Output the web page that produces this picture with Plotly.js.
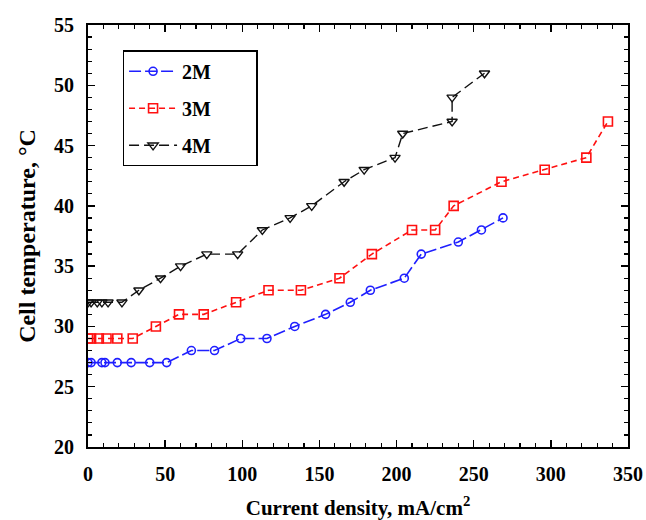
<!DOCTYPE html>
<html>
<head>
<meta charset="utf-8">
<script src="https://cdn.plot.ly/plotly-3.0.1.min.js"></script>
<style>html,body{margin:0;padding:0;background:#fff;}#chart{width:646px;height:520px;}</style>
</head>
<body>
<div id="chart"></div>
<script>
var seriesNames = ["2M", "3M", "4M"];
var x2M = [0, 2, 9, 11, 19, 28, 40, 51, 67, 82, 99, 116, 134, 154, 170, 183, 205, 216, 240, 255, 269];
var y2M = [27, 27, 27, 27, 27, 27, 27, 27, 28, 28, 29, 29, 30, 31, 32, 33, 34, 36, 37, 38, 39];
var x3M = [0, 2, 7, 12, 19, 29, 44, 59, 75, 96, 117, 138, 163, 184, 210, 225, 237, 268, 296, 323, 337];
var y3M = [29, 29, 29, 29, 29, 29, 30, 31, 31, 32, 33, 33, 34, 36, 38, 38, 40, 42, 43, 44, 47];
var x4M = [0, 2, 6, 9, 13, 22, 33, 47, 60, 77, 97, 113, 131, 145, 166, 179, 199, 204, 236, 236, 257];
var y4M = [32, 32, 32, 32, 32, 32, 33, 34, 35, 36, 36, 38, 39, 40, 42, 43, 44, 46, 47, 49, 51];
var xTitle = "Current density, mA/cm<sup>2</sup>";
var yTitle = "Cell temperature, °C";

var serif = "Liberation Serif, Times New Roman, serif";
var pad = "\u00a0\u00a0\u00a0\u00a0\u00a0\u00a0\u00a0\u00a0";

var traces = [
  {x: x2M, y: y2M, name: seriesNames[0] + pad, legendgroup: "a", mode: "lines+markers", type: "scatter",
   line: {color: "#1f1fff", width: 1.6, dash: "12px,4px"},
   marker: {symbol: "circle-open", size: 8, color: "#1f1fff", line: {width: 1.6, color: "#1f1fff"}}},
  {x: x3M, y: y3M, name: seriesNames[1] + pad, legendgroup: "b", mode: "lines+markers", type: "scatter",
   line: {color: "#ff1010", width: 1.6, dash: "6px,4px"},
   marker: {symbol: "square-open", size: 9, color: "#ff1010", line: {width: 1.6, color: "#ff1010"}}},
  {x: x4M, y: y4M, name: seriesNames[2] + pad, legendgroup: "c", mode: "lines+markers", type: "scatter",
   line: {color: "#111111", width: 1.4, dash: "10px,5px"},
   marker: {symbol: "triangle-down-open", size: 9, color: "#111111", line: {width: 1.4, color: "#111111"}}}
];

var axisCommon = {
  showline: true, linecolor: "#000", linewidth: 2, mirror: "ticks",
  ticks: "inside", ticklen: 7, tickwidth: 1.5, tickcolor: "#000",
  showgrid: false, zeroline: false,
  tickfont: {family: serif, size: 20, color: "#000", weight: "bold"}
};

var layout = {
  width: 646, height: 520,
  margin: {l: 88, r: 18, t: 25, b: 73},
  paper_bgcolor: "#fff", plot_bgcolor: "#fff",
  showlegend: true,
  legend: {
    x: 0.064, y: 0.94, xanchor: "left", yanchor: "top",
    bordercolor: "#000", borderwidth: 1.5, bgcolor: "#fff",
    tracegroupgap: 8, itemwidth: 48,
    font: {family: serif, size: 20, color: "#000", weight: "bold"}
  },
  xaxis: Object.assign({}, axisCommon, {
    range: [0, 350], dtick: 50, tick0: 0, ticklabelstandoff: 8,
    minor: {dtick: 10, ticks: "inside", ticklen: 4, tickcolor: "#000", tickwidth: 1.2},
    title: {text: xTitle, standoff: 16, font: {family: serif, size: 21, color: "#000", weight: "bold"}}
  }),
  yaxis: Object.assign({}, axisCommon, {
    range: [20, 55], dtick: 5, tick0: 20, ticklabelstandoff: 8,
    minor: {dtick: 1, ticks: "inside", ticklen: 4, tickcolor: "#000", tickwidth: 1.2},
    title: {text: yTitle, standoff: 12, font: {family: serif, size: 24, color: "#000", weight: "bold"}}
  })
};

Plotly.newPlot("chart", traces, layout, {displayModeBar: false, staticPlot: true});
</script>
</body>
</html>
